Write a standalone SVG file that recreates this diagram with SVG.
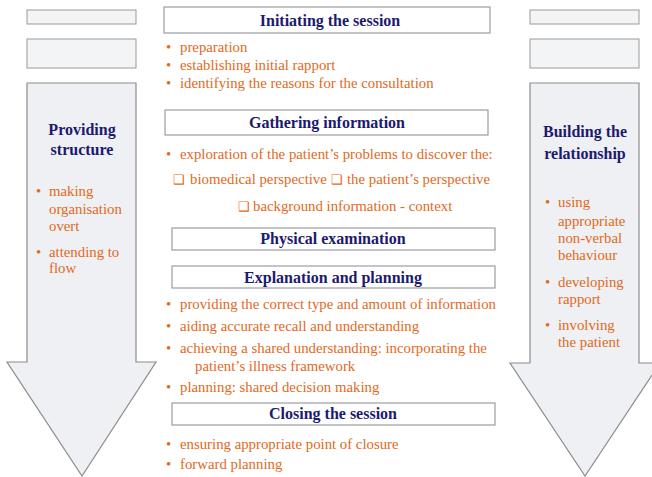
<svg xmlns="http://www.w3.org/2000/svg" width="652" height="477" viewBox="0 0 652 477">
  <style>
    .bg { fill: #ffffff; }
    .tab { fill: #f3f4f6; stroke: #9a9a9a; stroke-width: 1; }
    .arrow { fill: #eff0f3; stroke: #8c8c8c; stroke-width: 1.2; }
    .box { fill: #ffffff; stroke: #9a9da3; stroke-width: 1.2; }
    .title { font-weight: bold; font-size: 16px; fill: #1c1a6e; text-anchor: middle; }
    .item { font-size: 14.8px; fill: #e2691c; }
    .chk { font-size: 13px; fill: #e2691c; }
  </style>

  <rect class="bg" x="0" y="0" width="652" height="477"/>

  <!-- left column: structure -->
  <g id="left-tabs">
    <rect class="tab" x="27" y="10" width="109" height="14"/>
    <rect class="tab" x="27" y="39" width="109" height="29"/>
  </g>
  <g id="providing-structure" font-family="Liberation Serif, serif">
    <path class="arrow" d="M27,83 H136 V362 H156 L82,476 L7,362 H27 Z"/>
    <text class="title" x="82" y="135">Providing</text>
    <text class="title" x="82" y="155">structure</text>
    <text class="item" x="36" y="196">•</text>
    <text class="item" x="49" y="196">making</text>
    <text class="item" x="49" y="214">organisation</text>
    <text class="item" x="49" y="231">overt</text>
    <text class="item" x="36" y="257">•</text>
    <text class="item" x="49" y="257">attending to</text>
    <text class="item" x="49" y="273">flow</text>
  </g>

  <!-- right column: relationship -->
  <g id="right-tabs">
    <rect class="tab" x="530" y="10" width="109" height="14"/>
    <rect class="tab" x="530" y="39" width="109" height="29"/>
  </g>
  <g id="building-relationship" font-family="Liberation Serif, serif">
    <path class="arrow" d="M530,83 H639 V363 H660 L585,476 L510,363 H530 Z"/>
    <text class="title" x="585" y="137">Building the</text>
    <text class="title" x="585" y="159">relationship</text>
    <text class="item" x="545" y="207">•</text>
    <text class="item" x="558" y="207">using</text>
    <text class="item" x="558" y="226">appropriate</text>
    <text class="item" x="558" y="243">non-verbal</text>
    <text class="item" x="558" y="260">behaviour</text>
    <text class="item" x="545" y="287">•</text>
    <text class="item" x="558" y="287">developing</text>
    <text class="item" x="558" y="304">rapport</text>
    <text class="item" x="545" y="330">•</text>
    <text class="item" x="558" y="330">involving</text>
    <text class="item" x="558" y="347">the patient</text>
  </g>

  <!-- central sequence of stages -->
  <g id="initiating" font-family="Liberation Serif, serif">
    <rect class="box" x="164" y="7" width="326" height="26"/>
    <text class="title" x="330" y="26">Initiating the session</text>
    <text class="item" x="166" y="52">•</text>
    <text class="item" x="180" y="52">preparation</text>
    <text class="item" x="166" y="70">•</text>
    <text class="item" x="180" y="70">establishing initial rapport</text>
    <text class="item" x="166" y="88">•</text>
    <text class="item" x="180" y="88">identifying the reasons for the consultation</text>
  </g>

  <g id="gathering" font-family="Liberation Serif, serif">
    <rect class="box" x="165" y="110" width="323" height="25"/>
    <text class="title" x="327" y="128">Gathering information</text>
    <text class="item" x="166" y="159">•</text>
    <text class="item" x="180" y="159">exploration of the patient’s problems to discover the:</text>
    <text class="chk" x="173" y="184">❑</text>
    <text class="item" x="190" y="184">biomedical perspective</text>
    <text class="chk" x="331" y="184">❑</text>
    <text class="item" x="347" y="184">the patient’s perspective</text>
    <text class="chk" x="238" y="211">❑</text>
    <text class="item" x="253" y="211">background information - context</text>
  </g>

  <g id="physical" font-family="Liberation Serif, serif">
    <rect class="box" x="172" y="228" width="323" height="22"/>
    <text class="title" x="333" y="244">Physical examination</text>
  </g>

  <g id="explanation" font-family="Liberation Serif, serif">
    <rect class="box" x="172" y="266" width="323" height="22"/>
    <text class="title" x="333" y="283">Explanation and planning</text>
    <text class="item" x="166" y="309">•</text>
    <text class="item" x="180" y="309">providing the correct type and amount of information</text>
    <text class="item" x="166" y="331">•</text>
    <text class="item" x="180" y="331">aiding accurate recall and understanding</text>
    <text class="item" x="166" y="353">•</text>
    <text class="item" x="180" y="353">achieving a shared understanding: incorporating the</text>
    <text class="item" x="195" y="371">patient’s illness framework</text>
    <text class="item" x="166" y="392">•</text>
    <text class="item" x="180" y="392">planning: shared decision making</text>
  </g>

  <g id="closing" font-family="Liberation Serif, serif">
    <rect class="box" x="172" y="403" width="323" height="22"/>
    <text class="title" x="333" y="419">Closing the session</text>
    <text class="item" x="166" y="449">•</text>
    <text class="item" x="180" y="449">ensuring appropriate point of closure</text>
    <text class="item" x="166" y="469">•</text>
    <text class="item" x="180" y="469">forward planning</text>
  </g>

  <!-- no connectors between stages; order is given by position -->
  <g id="connectors"/>
</svg>
